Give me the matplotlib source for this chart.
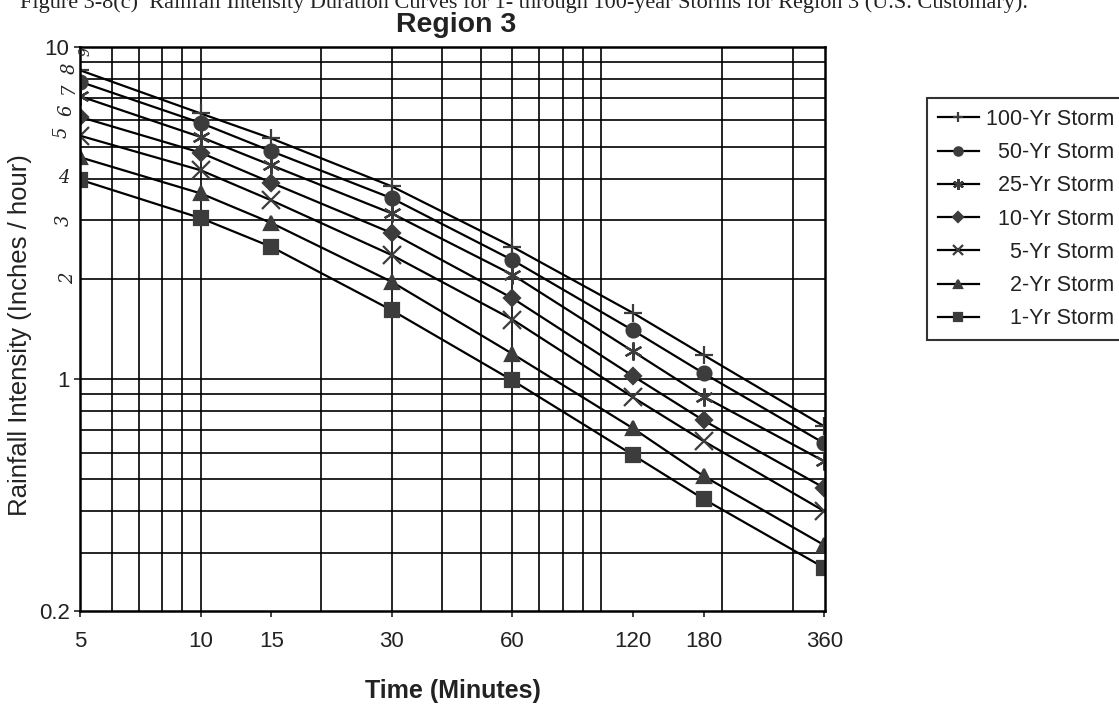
import numpy as np
import matplotlib
matplotlib.use("Agg")
import matplotlib.pyplot as plt
from matplotlib.ticker import FixedLocator, NullLocator

plt.rcParams['font.family'] = ['Liberation Sans', 'DejaVu Sans']

# durations (minutes)
minutes = [5, 10, 15, 30, 60, 120, 180, 360]

# rainfall intensity (inches / hour)
yr100 = [8.5, 6.3, 5.3, 3.8, 2.5, 1.58, 1.18, 0.72]
yr50 = [7.85, 5.9, 4.85, 3.5, 2.28, 1.40, 1.04, 0.64]
yr25 = [7.1, 5.35, 4.4, 3.15, 2.06, 1.21, 0.885, 0.565]
yr10 = [6.15, 4.8, 3.9, 2.75, 1.75, 1.02, 0.75, 0.47]
yr5 = [5.4, 4.25, 3.45, 2.36, 1.51, 0.88, 0.65, 0.40]
yr2 = [4.65, 3.62, 2.95, 1.96, 1.19, 0.71, 0.51, 0.316]
yr1 = [3.98, 3.05, 2.5, 1.61, 0.99, 0.59, 0.435, 0.27]

series = [yr100, yr50, yr25, yr10, yr5, yr2, yr1]
# leading spaces right-align the legend text (two spaces ~ one digit)
labels = ['100-Yr Storm', '  50-Yr Storm', '  25-Yr Storm', '  10-Yr Storm',
          '    5-Yr Storm', '    2-Yr Storm', '    1-Yr Storm']
markers = ['+', 'o', (6, 2, 0), 'D', 'x', '^', 's']
msizes = [13, 10, 13, 8, 13, 10, 10]

x_ticks = [5, 10, 15, 30, 60, 120, 180, 360]
y_ticks = [0.2, 1, 10]

ink = '#222222'
mk = '#3c3c3c'

fig = plt.figure(figsize=(11.19, 7.09), dpi=100)
ax = fig.add_axes([0.0715, 0.138, 0.666, 0.796])

for vals, lab, m, ms in zip(series, labels, markers, msizes):
    ax.plot(minutes, vals, color='black', lw=1.6, marker=m, markersize=ms,
            markerfacecolor=mk, markeredgecolor=mk, markeredgewidth=1.6, label=lab)

ax.set_xscale('log')
ax.set_yscale('log')
ax.set_xlim(5, 362)
ax.set_ylim(0.2, 10)

ax.xaxis.set_major_locator(FixedLocator(x_ticks))
ax.set_xticklabels([str(v) for v in x_ticks])
ax.xaxis.set_minor_locator(NullLocator())
ax.yaxis.set_major_locator(FixedLocator(y_ticks))
ax.set_yticklabels(['0.2', '1', '10'])
ax.yaxis.set_minor_locator(NullLocator())

# log grid lines (no tick marks)
for gx in [6, 7, 8, 9, 10, 20, 30, 40, 50, 60, 70, 80, 90, 100, 200, 300]:
    ax.axvline(gx, color='black', lw=1.2, zorder=0)
for gy in [0.3, 0.4, 0.5, 0.6, 0.7, 0.8, 0.9, 1, 2, 3, 4, 5, 6, 7, 8, 9]:
    ax.axhline(gy, color='black', lw=1.2, zorder=0)

ax.tick_params(axis='both', which='major', labelsize=16, colors=ink, length=4, width=1.2)
ax.tick_params(axis='x', pad=10)
for s in ax.spines.values():
    s.set_linewidth(1.8)
    s.set_color('black')

# handwritten numbers next to the y axis
hand = {9: (86, 52), 8: (70, 68), 7: (69, 88), 6: (66, 110), 5: (62, 132), 4: (64, 178), 3: (64, 220), 2: (68, 278)}
for v, (px, py) in hand.items():
    fig.text(px / 1119, 1 - py / 709, str(v), fontsize=13 if v != 9 else 10, color=ink,
             rotation=0 if v == 4 else 90, ha='center', va='center', family='DejaVu Serif',
             style='italic')

ax.set_ylabel('Rainfall Intensity (Inches / hour)', fontsize=18.5, color=ink)
ax.yaxis.set_label_coords(-0.064, 0.49)
ax.set_xlabel('Time (Minutes)', fontsize=18, fontweight='bold', color=ink, labelpad=20)

fig.text(456 / 1119, 1 - 32 / 709, 'Region 3', fontsize=20.5, fontweight='bold', color=ink,
         ha='center', va='baseline')
fig.text(0.018, 1 - 8 / 709, 'Figure 3-8(c)  Rainfall Intensity Duration Curves for 1- through 100-year Storms for Region 3 (U.S. Customary).',
         fontsize=16, family='Liberation Serif', color=ink, ha='left', va='baseline')

leg = fig.legend(loc='upper left', bbox_to_anchor=(927 / 1119, 1 - 98 / 709), fontsize=15.5,
                 frameon=True, fancybox=False, edgecolor='black', handlelength=1.9,
                 labelspacing=0.57, borderpad=0.5, handletextpad=0.35, borderaxespad=0,
                 markerscale=0.6)
leg.get_frame().set_linewidth(1.5)
for t in leg.get_texts():
    t.set_color(ink)

fig.savefig('out.png', dpi=100)
